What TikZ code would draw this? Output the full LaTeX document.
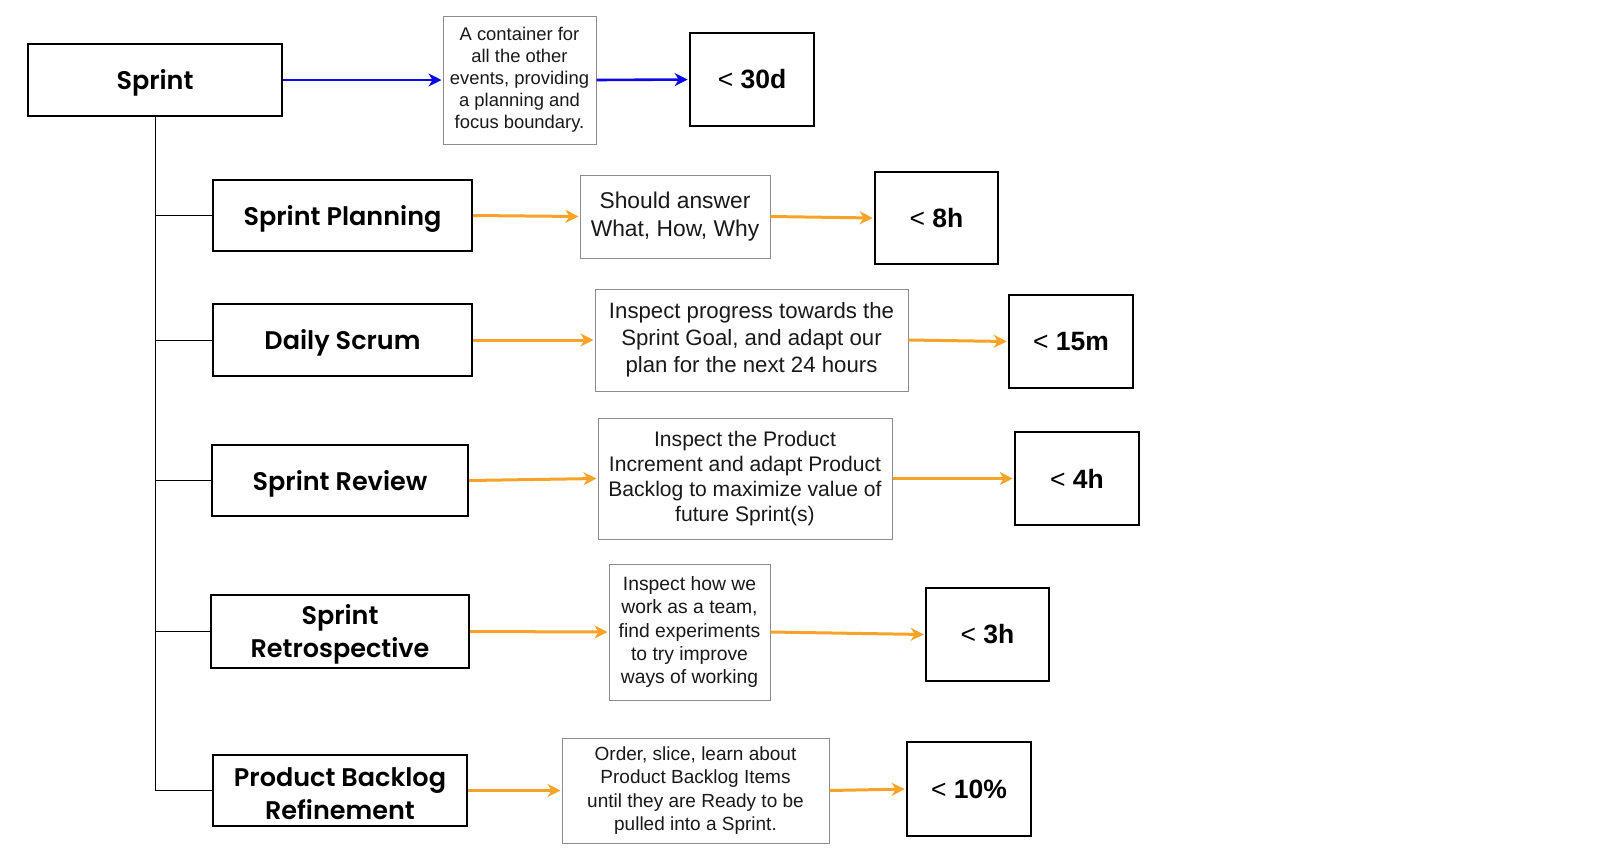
\documentclass[tikz,border=0pt]{standalone}
\usepackage{fontspec}
\setmainfont{Liberation Sans}
\newfontfamily\lblfont{Poppins}[BoldFont={Poppins SemiBold}]
\usetikzlibrary{arrows.meta}
\definecolor{arrblue}{RGB}{10,10,230}
\definecolor{arrorange}{RGB}{247,163,40}
\definecolor{descgray}{RGB}{140,140,140}
\tikzset{
  evbox/.style={draw=black, line width=2pt, inner sep=0pt},
  evtext/.style={inner sep=0pt, align=center, font=\lblfont\bfseries\fontsize{25.5}{33}\selectfont},
  timebox/.style={draw=black, line width=2.6pt, inner sep=0pt, align=center, font=\fontsize{26.5}{30}\selectfont},
  descbox/.style={draw=descgray, line width=1pt, inner sep=0pt, align=center, text=black!90},
  blarrow/.style={draw=arrblue, line width=2.6pt, -{Stealth[length=13pt,width=13pt,inset=4pt]}, shorten >=1pt},
  orarrow/.style={draw=arrorange, line width=3pt, -{Stealth[length=13pt,width=13pt,inset=4pt]}, shorten >=1pt},
  treeline/.style={draw=black, line width=1pt}
}
\begin{document}
\begin{tikzpicture}[x=1pt,y=-1pt]
\fill[white] (0,0) rectangle (1621,855);
\useasboundingbox (0,0) rectangle (1621,855);

% Sprint row
\node[evbox, minimum width=254pt, minimum height=72pt] (sprint) at (155,80) {};
\node[evtext] (sprint-t) at ([yshift=-3pt]sprint.center) {Sprint};
\node[descbox, minimum width=153pt, minimum height=128pt, font=\fontsize{18.4}{22}\selectfont] (d0) at (519.5,80) {A container for\\all the other\\events, providing\\a planning and\\focus boundary.};
\node[timebox, minimum width=124pt, minimum height=93pt] (t0) at (752,79.5) {< \textbf{30d}};

% Sprint Planning
\node[evbox, minimum width=259pt, minimum height=71pt] (plan) at (342.5,215.5) {};
\node[evtext] (plan-t) at ([yshift=-3pt]plan.center) {Sprint Planning};
\node[descbox, minimum width=190pt, minimum height=83pt, font=\fontsize{22.8}{28}\selectfont] (d1) at (675,216.5) {Should answer\\What, How, Why};
\node[timebox, minimum width=123pt, minimum height=92pt] (t1) at (936.5,218) {< \textbf{8h}};

% Daily Scrum
\node[evbox, minimum width=259pt, minimum height=72pt] (daily) at (342.5,340) {};
\node[evtext] (daily-t) at ([yshift=-3pt]daily.center) {Daily Scrum};
\node[descbox, minimum width=313pt, minimum height=102pt, font=\fontsize{22.2}{27}\selectfont] (d2) at (751.5,340) {Inspect progress towards the\\Sprint Goal, and adapt our\\plan for the next 24 hours};
\node[timebox, minimum width=124pt, minimum height=93pt] (t2) at (1071,341.5) {< \textbf{15m}};

% Sprint Review
\node[evbox, minimum width=256pt, minimum height=71pt] (review) at (340,480.5) {};
\node[evtext] (review-t) at ([yshift=-3pt]review.center) {Sprint Review};
\node[descbox, minimum width=294pt, minimum height=121pt, font=\fontsize{21.1}{25.3}\selectfont] (d3) at (745,478.5) {Inspect the Product\\Increment and adapt Product\\Backlog to maximize value of\\future Sprint(s)};
\node[timebox, minimum width=124pt, minimum height=93pt] (t3) at (1077,478.5) {< \textbf{4h}};

% Sprint Retrospective
\node[evbox, minimum width=258pt, minimum height=73pt] (retro) at (340,631.5) {};
\node[evtext] (retro-t) at ([yshift=-3pt]retro.center) {Sprint\\Retrospective};
\node[descbox, minimum width=161pt, minimum height=136pt, font=\fontsize{19.3}{23.3}\selectfont] (d4) at (689.5,632) {Inspect how we\\work as a team,\\find experiments\\to try improve\\ways of working};
\node[timebox, minimum width=123pt, minimum height=93pt] (t4) at (987.5,634.5) {< \textbf{3h}};

% Product Backlog Refinement
\node[evbox, minimum width=254pt, minimum height=71pt] (pbr) at (340,790.5) {};
\node[evtext] (pbr-t) at ([yshift=-3pt]pbr.center) {Product Backlog\\Refinement};
\node[descbox, minimum width=267pt, minimum height=105pt, font=\fontsize{19}{23.3}\selectfont] (d5) at (695.5,790.5) {Order, slice, learn about\\Product Backlog Items\\until they are Ready to be\\pulled into a Sprint.};
\node[timebox, minimum width=124pt, minimum height=94pt] (t5) at (969,789) {< \textbf{10\%}};

% tree
\draw[treeline] (sprint.south) |- (pbr.west);
\foreach \n in {plan,daily,review,retro}{
  \draw[treeline] (sprint.south |- \n.west) -- (\n.west);
}

% arrows
\draw[blarrow] (sprint.east) -- (d0.west);
\draw[blarrow] (d0.east) -- (t0.west);
\foreach \a/\b/\c in {plan/d1/t1,daily/d2/t2,review/d3/t3,retro/d4/t4,pbr/d5/t5}{
  \draw[orarrow] (\a.east) -- (\b.west);
  \draw[orarrow] (\b.east) -- (\c.west);
}
\end{tikzpicture}
\end{document}
